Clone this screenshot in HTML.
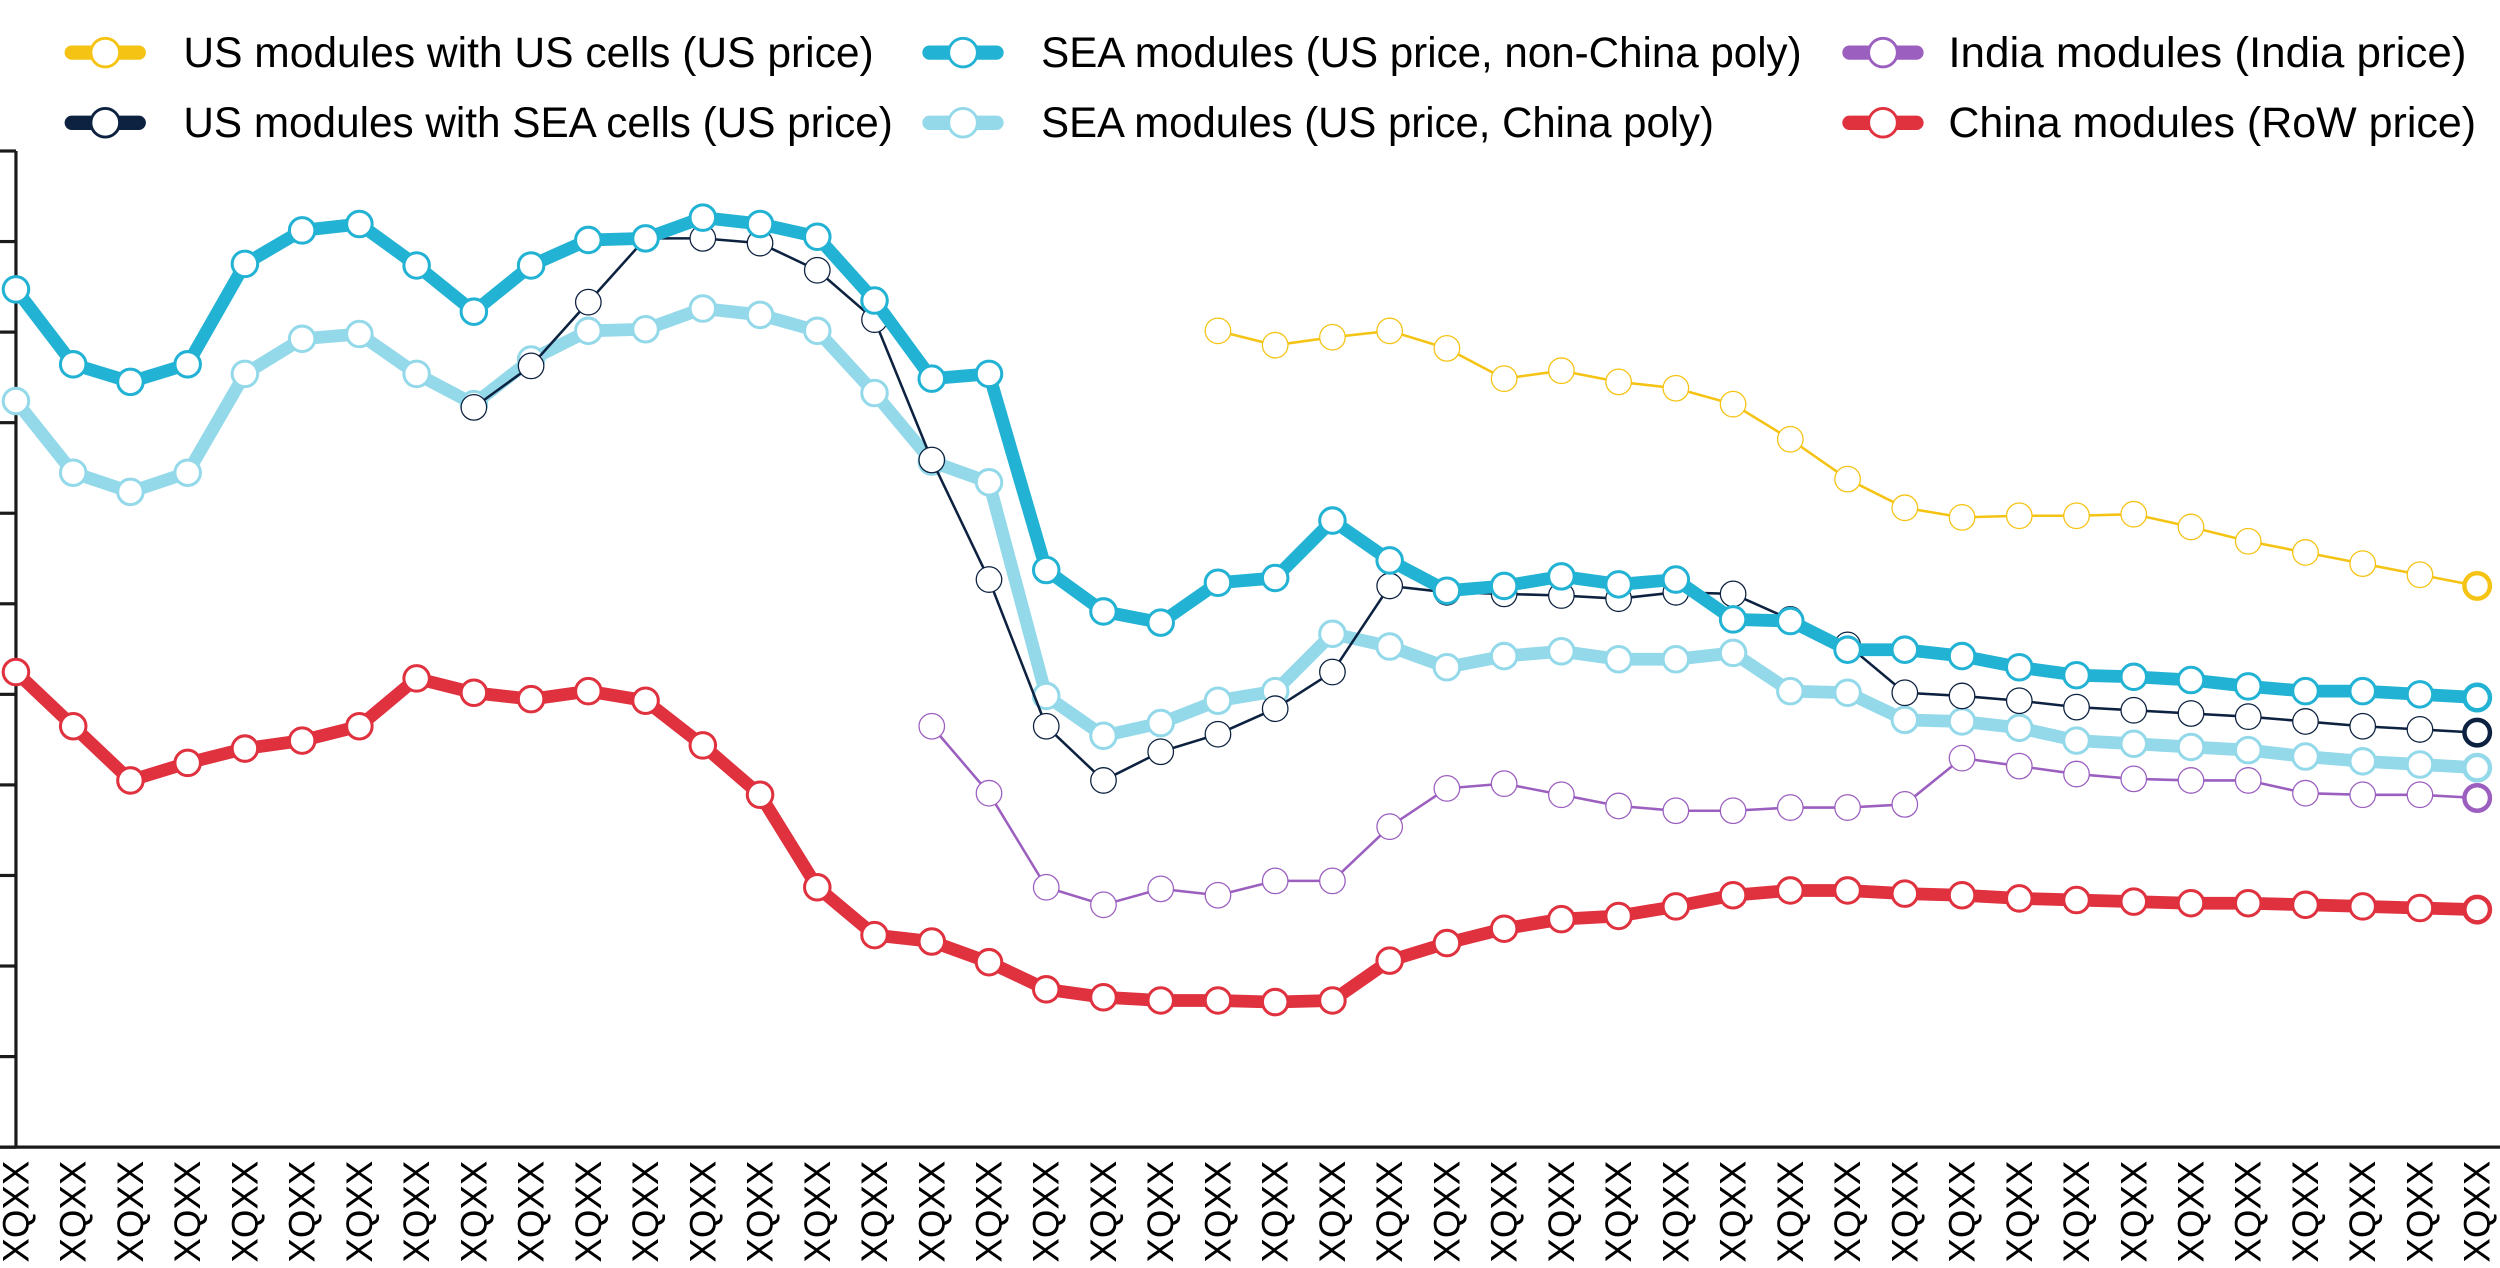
<!DOCTYPE html>
<html><head><meta charset="utf-8"><style>html,body{margin:0;padding:0;background:#fff}svg{display:block}</style></head>
<body>
<svg id="chart" xmlns="http://www.w3.org/2000/svg" width="2500" height="1268" viewBox="0 0 1568 795.3" font-family="'Liberation Sans', sans-serif">
<g id="legend"></g>
<g id="axes"></g>
<g id="series"></g>
<g id="xlabels"></g>
</svg>
<script>
const categories = Array.from({length:44}, () => 'XQXX');
const seaNonChina = [538,491,480,491,554,575,579,553,524,553,569,570,583,579,571,531,482,485,362,336,329,354,357,393,368,349,352,358,353,356,331,330,312,312,308,301,296,295,293,289,286,286,284,282];
const seaChina = [468,423,411,423,485,507,510,485,466,494,512,513,526,522,512,473,430,417,283,258,266,280,286,322,314,301,308,311,306,306,310,286,285,268,267,263,255,253,251,249,245,242,240,238];
const usSeaCells = [null,null,null,null,null,null,null,null,464,490,530,570,570,567,550,519,431,356,264,230,248,259,275,298,352,348,347,346,344,348,347,331,315,285,283,280,276,274,272,270,267,264,262,260];
const usUsCells = [null,null,null,null,null,null,null,null,null,null,null,null,null,null,null,null,null,null,null,null,null,512,503,508,512,501,482,487,480,476,466,444,419,401,395,396,396,397,389,380,373,366,359,352];
const india = [null,null,null,null,null,null,null,null,null,null,null,null,null,null,null,null,264,222,163,152,162,158,167,167,201,225,228,221,214,211,211,213,213,215,244,239,234,231,230,230,222,221,221,219];
const china = [298,264,230,241,250,255,264,294,285,281,286,280,252,221,163,133,129,116,99,94,92,92,91,92,117,128,137,143,145,151,158,161,161,159,158,156,155,154,153,153,152,151,150,149];
const yTicks = [0,56.8,113.6,170.4,227.2,284,340.8,397.6,454.4,511.2,568,624.8];
const legendLabels = ['US modules with US cells (US price)','SEA modules (US price, non-China poly)','India modules (India price)','US modules with SEA cells (US price)','SEA modules (US price, China poly)','China modules (RoW price)'];

const NS='http://www.w3.org/2000/svg';
const X0=10, DX=35.9, Y0=719.5;
const xs = i => X0 + i*DX;
const ys = v => Y0 - v;
function mk(tag, attrs, parent){const e=document.createElementNS(NS,tag);for(const k in attrs)e.setAttribute(k,attrs[k]);parent.appendChild(e);return e;}

const axes=document.getElementById('axes');
const yAxis=mk('line',{x1:X0,y1:ys(yTicks[yTicks.length-1]),x2:X0,y2:Y0,stroke:'#1a1a1a','stroke-width':2},axes);


const xAxis=mk('line',{x1:0,y1:Y0,x2:1568,y2:Y0,stroke:'#1a1a1a','stroke-width':2},axes);


yTicks.forEach(t=>{
  const l=mk('line',{x1:0,y1:ys(t),x2:X0,y2:ys(t),stroke:'#1a1a1a','stroke-width':2},axes);
  
  
});

const xl=document.getElementById('xlabels');
categories.forEach((c,i)=>{
  const t=mk('text',{transform:`translate(${xs(i)},728) rotate(-90)`,'text-anchor':'end','dominant-baseline':'central','font-size':23,fill:'#000'},xl);
  t.textContent=c;
  
  
});

const seriesList=[
  {data:china,color:'#e0313f',w:8,name:'china-modules-series'},
  {data:india,color:'#9b5fc0',w:1.6,name:'india-modules-series'},
  {data:seaChina,color:'#93d9ea',w:8,name:'sea-china-poly-series'},
  {data:usSeaCells,color:'#0d2240',w:1.6,name:'us-sea-cells-series'},
  {data:seaNonChina,color:'#22b2d4',w:8,name:'sea-non-china-poly-series'},
  {data:usUsCells,color:'#f5c313',w:1.6,name:'us-us-cells-series'}
];
const sg=document.getElementById('series');
seriesList.forEach(s=>{
  const g=mk('g',{},sg);
  
  
  let d='';let started=false;let last=-1;
  s.data.forEach((v,i)=>{if(v==null)return;d+=(started?'L':'M')+xs(i)+' '+ys(v)+' ';started=true;last=i;});
  const p=mk('path',{d:d,fill:'none',stroke:s.color,'stroke-width':s.w,'stroke-linejoin':'round'},g);
  
  
  s.data.forEach((v,i)=>{
    if(v==null)return;
    const c=mk('circle',{cx:xs(i),cy:ys(v),r:8,fill:'#fff',stroke:s.color,'stroke-width':i===last?2.8:(s.w>3?1.9:0.8)},g);
    
    
  });
});

const lg=document.getElementById('legend');
const legendPos=[[45,33,548,0],[583,33,1130,4],[1160,33,1547,1],[45,77,560,3],[583,77,1075,2],[1160,77,1553,5]];
const legendColors=['#f5c313','#22b2d4','#9b5fc0','#0d2240','#93d9ea','#e0313f'];
legendPos.forEach((p,k)=>{
  const g=mk('g',{},lg);
  
  
  const lx=p[0], ly=p[1];
  mk('line',{x1:lx,y1:ly,x2:lx+42,y2:ly,stroke:legendColors[k],'stroke-width':9,'stroke-linecap':'round'},g);
  mk('circle',{cx:lx+21,cy:ly,r:9,fill:'#fff',stroke:legendColors[k],'stroke-width':1.8},g);
  const tx = lx + (k%3===2 ? 62 : 70);
  const t=mk('text',{x:tx,y:ly+9,'font-size':27,fill:'#000',textLength:p[2]-tx,lengthAdjust:'spacingAndGlyphs'},g);
  t.textContent=legendLabels[k];
  
  
});
</script>
</body></html>
